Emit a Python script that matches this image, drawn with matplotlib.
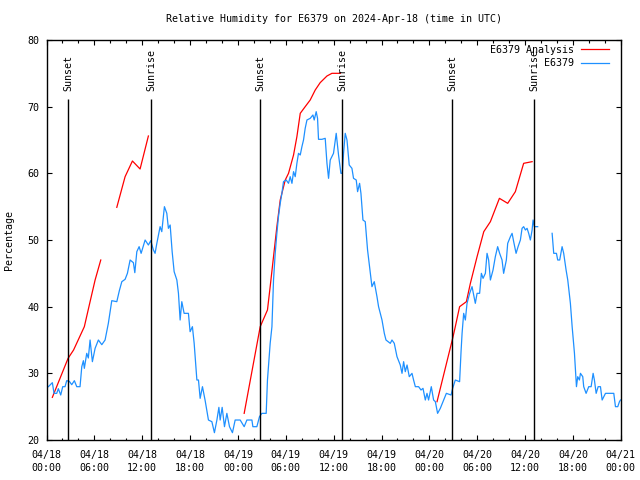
import matplotlib
matplotlib.use("Agg")
import matplotlib.pyplot as plt
import matplotlib.dates as mdates
import numpy as np
import pandas as pd

# Start of the plotted window (UTC), all times below are hours from it
start = pd.Timestamp("2024-04-18 00:00")

# Observed relative humidity for E6379 (two pieces, gap around 04/20 13:00)
obs_hours_a = [0.23, 0.73, 0.94, 1.28, 1.48, 1.78, 2.03, 2.32, 2.53, 2.86, 3.16, 3.49, 3.79, 4.20,
               4.42, 4.62, 4.74, 5.04, 5.24, 5.46, 5.75, 6.09, 6.50, 6.93, 7.34, 7.75, 8.18, 8.81,
               9.13, 9.44, 9.85, 10.14, 10.48, 10.89, 11.07, 11.32, 11.61, 11.86, 12.36, 12.77,
               13.07, 13.40, 13.61, 13.83, 14.24, 14.45, 14.78, 15.08, 15.28, 15.50, 15.75, 16.00,
               16.34, 16.54, 16.75, 16.96, 17.25, 17.79, 18.00, 18.29, 18.51, 18.85, 19.05, 19.26,
               19.55, 19.89, 20.30, 20.73, 21.05, 21.36, 21.61, 21.77, 22.02, 22.31, 22.61, 22.94,
               23.31, 23.65, 24.28, 24.78, 25.12, 25.75, 25.87, 26.37, 26.70, 27.00, 27.54, 27.70,
               28.04, 28.26, 28.46, 28.67, 28.88, 29.08, 29.30, 29.51, 29.71, 30.05, 30.34, 30.55,
               30.77, 30.97, 31.18, 31.39, 31.59, 31.81, 32.02, 32.22, 32.43, 32.65, 33.06, 33.40,
               33.56, 33.81, 33.98, 34.10, 34.53, 34.94, 35.16, 35.36, 35.57, 35.98, 36.32, 36.61,
               36.91, 37.08, 37.24, 37.45, 37.67, 37.95, 38.29, 38.49, 38.83, 39.00, 39.25, 39.42,
               39.67, 39.96, 40.25, 40.50, 40.80, 41.09, 41.43, 41.63, 42.06, 42.35, 42.56, 43.10,
               43.31, 43.60, 43.94, 44.35, 44.57, 44.77, 44.98, 45.20, 45.48, 45.82, 46.02, 46.24,
               46.65, 46.95, 47.20, 47.49, 47.70, 47.90, 48.24, 48.53, 48.75, 49.03, 49.37, 49.79,
               50.13, 50.72, 50.92, 51.25, 51.79, 51.97, 52.10, 52.30, 52.51, 52.72, 53.05, 53.35,
               53.76, 53.98, 54.30, 54.52, 54.73, 55.02, 55.23, 55.43, 55.65, 55.98, 56.27, 56.56,
               56.81, 57.11, 57.31, 57.65, 57.82, 58.16, 58.37, 58.57, 58.87, 59.12, 59.41, 59.62,
               59.82, 60.04, 60.25, 60.45, 60.66, 60.88, 61.00, 61.17, 61.58]
obs_values_a = [28.0, 28.6, 27.0, 27.0, 27.7, 26.75, 28.0, 28.0, 28.9, 28.8, 28.3, 28.9, 28.0, 28.0,
                31.0, 31.9, 30.75, 33.0, 32.3, 35.0, 31.75, 33.75, 35.0, 34.3, 35.0, 37.5, 40.9, 40.75,
                42.4, 43.75, 44.1, 45.0, 47.0, 46.6, 45.1, 48.25, 49.0, 48.0, 50.0, 49.25,
                49.9, 48.5, 48.0, 49.5, 52.0, 51.25, 55.0, 54.0, 51.75, 52.25, 48.25, 45.25,
                44.0, 42.0, 38.0, 40.75, 39.0, 39.0, 36.25, 37.0, 34.5, 29.0, 29.0, 26.25,
                28.0, 25.9, 23.0, 22.75, 21.1, 23.0, 24.9, 23.0, 24.9, 22.0, 24.0, 22.0,
                21.1, 23.0, 23.0, 22.0, 23.0, 23.0, 22.0, 22.0, 23.5, 24.0, 24.0, 29.0,
                34.5, 37.0, 44.0, 48.0, 51.0, 53.5, 55.5, 57.0, 58.75, 59.0, 58.5, 59.5,
                58.5, 60.25, 59.5, 61.5, 63.0, 62.75, 64.0, 65.0, 66.75, 68.0, 68.25, 68.75,
                68.0, 69.25, 68.25, 65.1, 65.1, 65.25, 61.5, 59.25, 62.0, 63.0, 66.0, 62.75,
                60.0, 60.0, 63.0, 66.0, 65.0, 61.25, 60.75, 59.25, 59.0, 57.25, 58.5, 57.0,
                53.0, 52.75, 48.5, 46.0, 43.0, 43.75, 41.5, 40.0, 38.0, 36.0, 35.0, 34.5,
                35.0, 34.5, 32.5, 31.25, 30.0, 31.75, 30.25, 31.25, 29.5, 30.0, 29.0, 28.0,
                28.0, 27.5, 27.75, 26.0, 27.0, 26.0, 28.0, 26.0, 25.75, 24.0, 24.75, 26.0,
                27.0, 26.75, 27.75, 29.0, 28.75, 33.25, 36.0, 39.0, 38.0, 40.5, 42.0, 43.0,
                40.5, 42.0, 42.0, 45.0, 44.25, 45.0, 48.0, 47.0, 44.0, 45.5, 47.5, 49.0,
                48.0, 47.0, 45.0, 47.0, 49.5, 50.5, 51.0, 49.75, 48.0, 49.0, 50.0, 51.75,
                52.0, 51.5, 51.75, 51.0, 50.0, 51.5, 53.0, 52.0, 52.0]
obs_hours_b = [63.39, 63.59, 63.93, 64.09, 64.34, 64.64, 64.84, 65.14, 65.35, 65.68, 65.90, 66.19,
               66.44, 66.60, 66.81, 66.94, 67.23, 67.35, 67.65, 67.98, 68.28, 68.53, 68.69, 68.91,
               69.16, 69.45, 69.66, 70.08, 71.12, 71.33, 71.62, 71.83, 71.96]
obs_values_b = [51.0, 48.0, 48.0, 47.0, 47.0, 49.0, 48.0, 45.5, 44.0, 40.5, 37.0, 33.0,
                28.0, 29.5, 29.0, 30.0, 29.5, 28.0, 27.0, 28.0, 28.0, 30.0, 29.0, 27.0,
                28.0, 28.0, 26.0, 27.0, 27.0, 25.0, 25.0, 25.75, 26.0]

# Analysis series, four separate pieces
ana_hours = [
    [0.73, 2.70, 3.39, 4.74, 5.46, 6.09, 6.80],
    [8.81, 9.85, 10.77, 11.73, 12.77],
    [24.78, 26.79, 27.70, 28.04, 28.46, 28.88, 29.30, 29.93, 30.34, 30.97, 31.39, 31.81,
     32.43, 33.06, 33.69, 34.31, 35.16, 35.78, 36.83],
    [48.96, 50.92, 51.25, 51.79, 52.64, 53.14, 53.98, 54.82, 55.65, 56.78, 57.82, 58.78,
     59.82, 60.88],
]
ana_values = [
    [26.4, 32.25, 33.5, 37.0, 40.75, 44.0, 47.0],
    [54.9, 59.5, 61.85, 60.65, 65.6],
    [24.0, 37.0, 39.5, 43.0, 47.5, 52.0, 56.0, 59.0, 60.0, 62.75, 65.5, 69.0,
     70.0, 71.0, 72.5, 73.6, 74.6, 75.0, 75.0],
    [25.75, 35.25, 37.0, 40.0, 40.75, 43.5, 47.5, 51.25, 52.75, 56.25, 55.5, 57.25,
     61.5, 61.75],
]

# Sunset / sunrise markers
sun_hours = [2.70, 13.11, 26.79, 37.08, 50.88, 61.17]
sun_labels = ["Sunset", "Sunrise", "Sunset", "Sunrise", "Sunset", "Sunrise"]


def to_time(hours):
    return start + pd.to_timedelta(np.asarray(hours), unit="h")


plt.rcParams['font.family'] = ['DejaVu Sans Mono']
plt.rcParams['font.size'] = 7.2

fig = plt.figure(figsize=(6.4, 4.8), dpi=100)
ax = fig.add_subplot(111)
fig.subplots_adjust(left=0.0727, right=0.970, top=0.9167, bottom=0.0833)

red = "#ff0000"
blue = "#1e90ff"

# analysis (red)
for i, (h, v) in enumerate(zip(ana_hours, ana_values)):
    ax.plot(to_time(h), v, color=red, lw=0.9, label="E6379 Analysis" if i == 0 else None)

# observations (blue)
ax.plot(to_time(obs_hours_a), obs_values_a, color=blue, lw=0.9, label="E6379")
ax.plot(to_time(obs_hours_b), obs_values_b, color=blue, lw=0.9)

# sunset / sunrise lines with labels
for h, lab in zip(sun_hours, sun_labels):
    t = to_time([h])[0]
    ax.vlines(t, 20, 71.1, color="black", lw=1.0)
    ax.text(t, 72.3, lab, rotation=90, ha="center", va="bottom")

ax.set_xlim(start, start + pd.Timedelta(hours=72))
ax.set_ylim(20, 80)
ax.set_yticks(range(20, 81, 10))

ax.xaxis.set_major_locator(mdates.HourLocator(byhour=range(0, 24, 6)))
ax.xaxis.set_minor_locator(mdates.HourLocator(byhour=range(0, 24, 2)))
ax.xaxis.set_major_formatter(mdates.DateFormatter("%m/%d\n%H:%M"))

ax.tick_params(which="both", direction="in", top=True, right=True, width=0.8)
ax.tick_params(which="major", length=3.4)
ax.tick_params(which="minor", length=1.8)
ax.tick_params(axis="x", pad=7)
ax.tick_params(axis="y", pad=5)
for lbl in ax.get_xticklabels():
    lbl.set_linespacing(1.45)
for s in ax.spines.values():
    s.set_linewidth(1.0)

ax.set_title("Relative Humidity for E6379 on 2024-Apr-18 (time in UTC)", fontsize=7.2, pad=13)
ax.set_ylabel("Percentage", labelpad=10)

ax.legend(loc="upper right", frameon=False, markerfirst=False, handlelength=2.8,
          handletextpad=0.7, labelspacing=0.35, borderaxespad=0, borderpad=0.4,
          bbox_to_anchor=(0.986, 0.9975))

plt.savefig("out.png", dpi=100)
